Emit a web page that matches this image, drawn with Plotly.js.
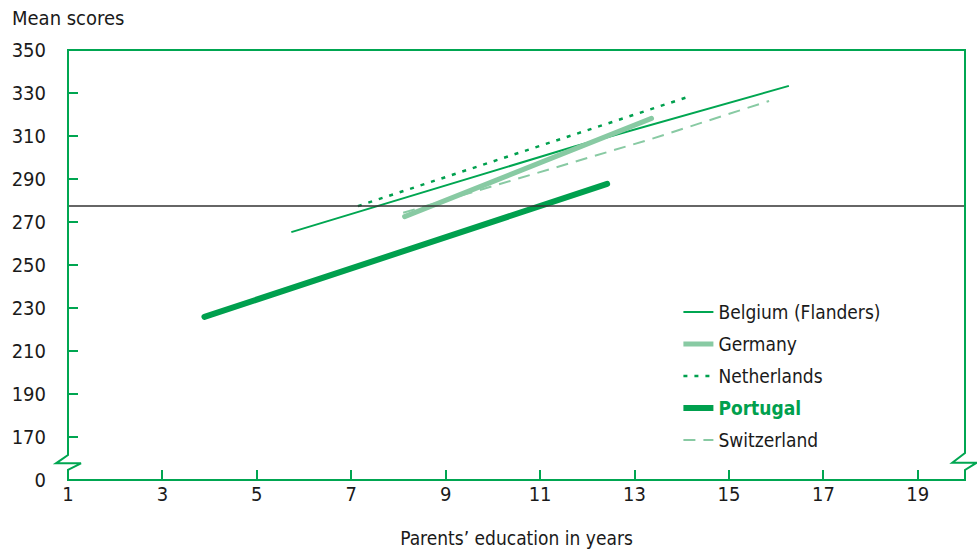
<!DOCTYPE html>
<html>
<head>
<meta charset="utf-8">
<script src="https://cdn.plot.ly/plotly-3.0.1.min.js"></script>
<style>
html,body{margin:0;padding:0;background:#fff;}
#chart{width:977px;height:551px;}
.scatterlayer .trace:nth-child(2) .js-line, .scatterlayer .trace:nth-child(4) .js-line { stroke-linecap: round; }
</style>
</head>
<body>
<div id="chart"></div>
<script>
// Data
const countries = ["Belgium (Flanders)", "Germany", "Netherlands", "Portugal", "Switzerland"];
const belgiumYears = [5.73, 11.71, 16.27];
const belgiumScores = [265.3, 305.0, 333.3];
const germanyYears = [8.13, 13.36];
const germanyScores = [272.5, 318.2];
const netherlandsYears = [7.14, 10.09, 14.15];
const netherlandsScores = [277.4, 298.8, 328.3];
const portugalYears = [3.89, 12.42];
const portugalScores = [225.9, 287.7];
const switzerlandYears = [8.10, 13.34, 15.85];
const switzerlandScores = [274.3, 308.5, 326.3];
const averageYears = [1, 20];
const averageScores = [277.5, 277.5];
const yTickVals = [150, 170, 190, 210, 230, 250, 270, 290, 310, 330, 350];
const yTickText = ["0", "170", "190", "210", "230", "250", "270", "290", "310", "330", "350"];
const xTickVals = [1, 3, 5, 7, 9, 11, 13, 15, 17, 19];

const GREEN = "#00a651";
const DARK = "#00a04e";
const LIGHT = "#88caa3";
const FONT = '"Liberation Sans Narrow", "Arial Narrow", "DejaVu Sans Condensed", sans-serif';
const INK = "#1a1a1a";

const traces = [
  {x: belgiumYears, y: belgiumScores, name: countries[0], line: {color: GREEN, width: 2}},
  {x: germanyYears, y: germanyScores, name: countries[1], line: {color: LIGHT, width: 5}},
  {x: netherlandsYears, y: netherlandsScores, name: countries[2], line: {color: DARK, width: 2.5, dash: "4px,7px"}},
  {x: portugalYears, y: portugalScores, name: '<b><span style="color:' + DARK + '">' + countries[3] + '</span></b>', line: {color: DARK, width: 6}},
  {x: switzerlandYears, y: switzerlandScores, name: countries[4], line: {color: LIGHT, width: 2, dash: "12px,8px"}},
].map((t, i) => Object.assign({type: "scatter", mode: "lines", legendgroup: "g" + i, hoverinfo: "skip"}, t));
traces.push({type: "scatter", mode: "lines", x: averageYears, y: averageScores, showlegend: false,
  line: {color: "#333333", width: 1.5}, hoverinfo: "skip"});

const framePath = "M0,1 L0,0.0581 L-0.0134,0.0388 L0.0145,0.0388 L0,0.0233 L0,0 L1,0 L1,0.0233 " +
  "L1.013,0.0402 L0.9858,0.0402 L1,0.0628 L1,1 Z";

const layout = {
  width: 977, height: 551,
  margin: {l: 68, r: 12, t: 50, b: 71},
  paper_bgcolor: "#fff", plot_bgcolor: "#fff",
  font: {family: FONT, size: 20, color: INK},
  title: {text: "Mean scores", x: 12/977, xanchor: "left", xref: "container", y: 1 - 18/551, yanchor: "middle",
    yref: "container", font: {family: FONT, size: 20, color: INK}},
  showlegend: true,
  legend: {x: 0.6805, y: 0.4345, xanchor: "left", yanchor: "top", traceorder: "grouped", tracegroupgap: 4.3,
    font: {family: FONT, size: 19, color: INK}, bgcolor: "rgba(0,0,0,0)"},
  xaxis: {range: [1, 20], tickvals: xTickVals, ticks: "inside", ticklen: 10, tickwidth: 2, tickcolor: GREEN,
    showgrid: false, zeroline: false, showline: false, fixedrange: true,
    tickfont: {family: FONT, size: 20, color: INK},
    title: {text: "Parents\u2019 education in years", font: {family: FONT, size: 19, color: INK}, standoff: 26}},
  yaxis: {range: [150, 350], tickvals: yTickVals, ticktext: yTickText, ticks: "inside", ticklen: 10, tickwidth: 2,
    tickcolor: GREEN, showgrid: false, zeroline: false, showline: false, fixedrange: true, ticklabelstandoff: 21,
    tickfont: {family: FONT, size: 20, color: INK}},
  shapes: [{type: "path", xref: "paper", yref: "paper", path: framePath, line: {color: GREEN, width: 2}, layer: "above"}]
};

Plotly.newPlot("chart", traces, layout, {displayModeBar: false, staticPlot: true});
</script>
</body>
</html>
